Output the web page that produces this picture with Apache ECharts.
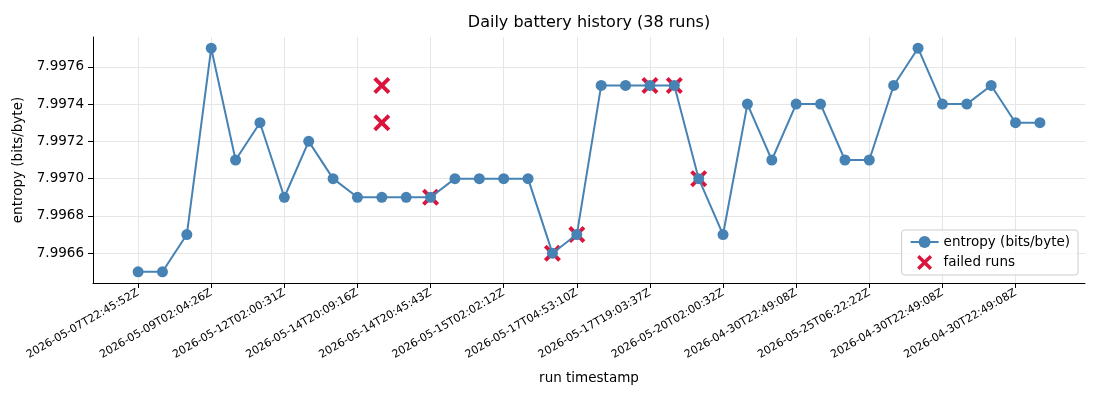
<!DOCTYPE html>
<html>
<head>
<meta charset="utf-8">
<script src="https://cdn.jsdelivr.net/npm/echarts@6/dist/echarts.min.js"></script>
<style>
  html, body { margin: 0; padding: 0; background: #fff; }
  #main { width: 1100px; height: 400px; }
</style>
</head>
<body>
<div id="main"></div>
<script>
// run timestamps, one per run
var runTimes = [
  '2026-05-07T22:45:52Z', '2026-05-08T02:01:14Z', '2026-05-08T20:12:40Z',
  '2026-05-09T02:04:26Z', '2026-05-10T02:03:05Z', '2026-05-11T02:01:48Z',
  '2026-05-12T02:00:31Z', '2026-05-13T02:02:57Z', '2026-05-14T02:01:09Z',
  '2026-05-14T20:09:16Z', '2026-05-14T20:21:30Z', '2026-05-14T20:33:02Z',
  '2026-05-14T20:45:43Z', '2026-05-14T21:10:18Z', '2026-05-14T22:05:51Z',
  '2026-05-15T02:02:12Z', '2026-05-16T02:01:37Z', '2026-05-17T02:00:44Z',
  '2026-05-17T04:53:10Z', '2026-05-17T05:20:26Z', '2026-05-17T18:41:09Z',
  '2026-05-17T19:03:37Z', '2026-05-17T19:27:55Z', '2026-05-18T02:01:23Z',
  '2026-05-20T02:00:32Z', '2026-05-21T02:02:16Z', '2026-05-22T02:00:58Z',
  '2026-04-30T22:49:08Z', '2026-05-23T02:01:41Z', '2026-05-24T02:00:19Z',
  '2026-05-25T06:22:22Z', '2026-05-26T02:01:03Z', '2026-04-30T22:49:08Z',
  '2026-04-30T22:49:08Z', '2026-05-27T02:00:47Z', '2026-05-28T02:02:29Z',
  '2026-04-30T22:49:08Z', '2026-05-29T02:01:12Z'
];

// entropy per run (bits/byte)
var entropy = [
  7.9965, 7.9965, 7.9967, 7.9977, 7.9971, 7.9973, 7.9969, 7.9972, 7.9970,
  7.9969, 7.9969, 7.9969, 7.9969, 7.9970, 7.9970, 7.9970, 7.9970, 7.9966,
  7.9967, 7.9975, 7.9975, 7.9975, 7.9975, 7.9970, 7.9967, 7.9974, 7.9971,
  7.9974, 7.9974, 7.9971, 7.9971, 7.9975, 7.9977, 7.9974, 7.9974, 7.9975,
  7.9973, 7.9973
];

// failed runs: run index and entropy
var failedIdx = [10, 10, 12, 17, 18, 21, 22, 23];
var failedVals = [7.9975, 7.9973, 7.9969, 7.9966, 7.9967, 7.9975, 7.9975, 7.9970];

// tick labels
var xTicks = [0, 3, 6, 9, 12, 15, 18, 21, 24, 27, 30, 33, 36];
var yTicks = [7.9966, 7.9968, 7.9970, 7.9972, 7.9974, 7.9976];

var lineData = entropy.map(function (v, i) { return [i, v]; });
var failData = failedIdx.map(function (x, i) { return [x, failedVals[i]]; });

var crossPath = 'path://M1.6,0 L5,3.4 L8.4,0 L10,1.6 L6.6,5 L10,8.4 L8.4,10 L5,6.6 L1.6,10 L0,8.4 L3.4,5 L0,1.6 Z';

var chart = echarts.init(document.getElementById('main'));
var option = {
  animation: false,
  textStyle: { fontFamily: 'DejaVu Sans', color: '#000' },
  title: {
    text: 'Daily battery history (38 runs)',
    left: 589,
    textAlign: 'center',
    top: 15,
    padding: 0,
    textStyle: { fontFamily: 'DejaVu Sans', fontSize: 16, fontWeight: 'normal', color: '#000' }
  },
  grid: { left: 93, right: 15, top: 37, bottom: 117 },
  legend: {
    orient: 'vertical',
    right: 22,
    bottom: 125,
    itemWidth: 28,
    itemHeight: 15,
    itemGap: 6,
    padding: [5, 8],
    borderColor: '#ccc',
    borderWidth: 1,
    borderRadius: 3,
    backgroundColor: 'rgba(255,255,255,0.8)',
    textStyle: { fontFamily: 'DejaVu Sans', fontSize: 13.5, color: '#000' },
    data: ['entropy (bits/byte)', 'failed runs']
  },
  xAxis: {
    type: 'value',
    min: -1.85,
    max: 38.85,
    name: 'run timestamp',
    nameLocation: 'middle',
    nameGap: 88,
    nameTextStyle: { fontSize: 13.5, color: '#000' },
    axisLine: { onZero: false, lineStyle: { color: '#000', width: 1 } },
    axisTick: { length: 5, lineStyle: { color: '#000' }, customValues: xTicks },
    axisLabel: {
      customValues: xTicks,
      rotate: 30,
      fontSize: 11,
      color: '#000',
      margin: 9,
      formatter: function (v) { return runTimes[Math.round(v)] || ''; }
    },
    splitLine: { show: true, lineStyle: { color: '#e6e6e6', width: 1 } }
  },
  yAxis: {
    type: 'value',
    min: 7.99644,
    max: 7.99776,
    name: 'entropy (bits/byte)',
    nameLocation: 'middle',
    nameGap: 62,
    nameTextStyle: { fontSize: 13.5, color: '#000' },
    axisLine: { show: true, onZero: false, lineStyle: { color: '#000', width: 1 } },
    axisTick: { show: true, length: 5, lineStyle: { color: '#000' }, customValues: yTicks },
    axisLabel: {
      customValues: yTicks,
      fontSize: 13.5,
      color: '#000',
      margin: 9,
      formatter: function (v) { return v.toFixed(4); }
    },
    splitLine: { show: true, lineStyle: { color: '#e6e6e6', width: 1 } }
  },
  series: [
    {
      name: 'entropy (bits/byte)',
      type: 'line',
      data: lineData,
      symbol: 'circle',
      symbolSize: 11,
      z: 3,
      lineStyle: { color: '#4682b4', width: 2 },
      itemStyle: { color: '#4682b4' }
    },
    {
      name: 'failed runs',
      type: 'scatter',
      data: failData,
      symbol: crossPath,
      symbolSize: 17,
      z: 2,
      itemStyle: { color: '#dc143c', opacity: 1 }
    }
  ]
};
option && chart.setOption(option);
</script>
</body>
</html>
